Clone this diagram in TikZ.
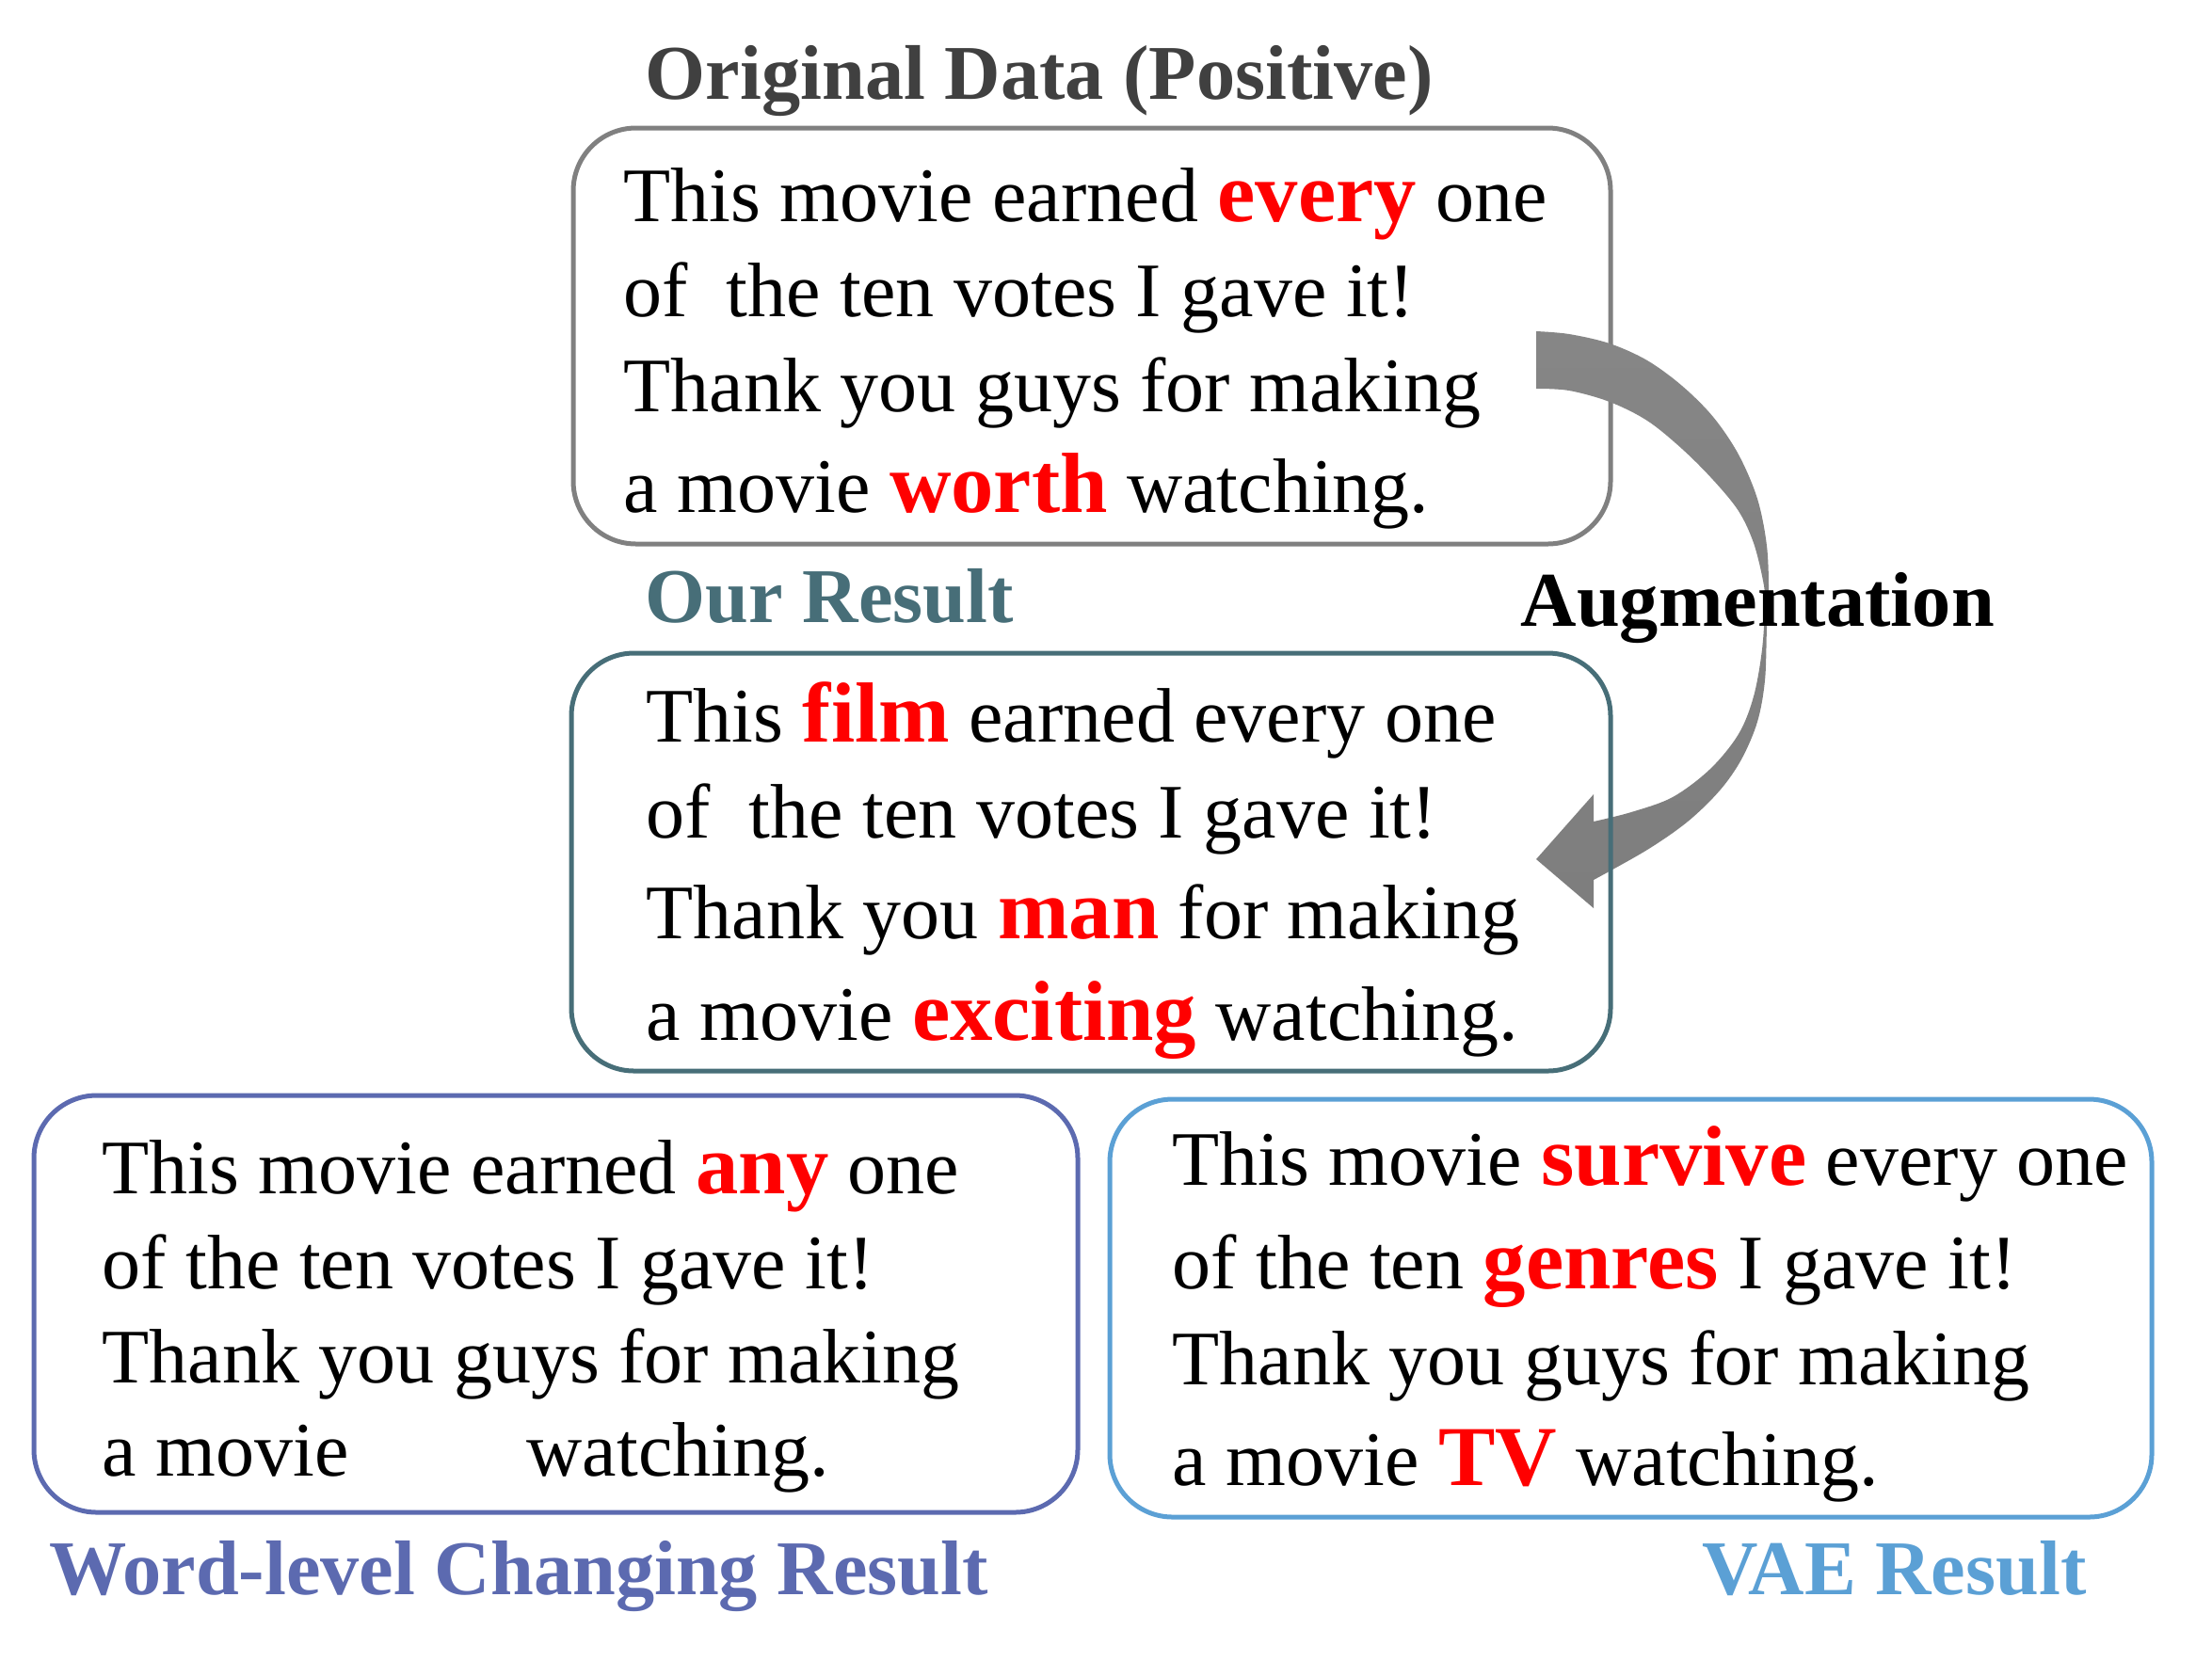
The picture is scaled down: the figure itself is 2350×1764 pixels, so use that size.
\documentclass[tikz,border=0pt]{standalone}
\usepackage{fontspec}
\setmainfont{Liberation Serif}
\definecolor{cOrig}{RGB}{128,128,128}
\definecolor{cOrigT}{RGB}{64,64,64}
\definecolor{cOur}{RGB}{71,110,120}
\definecolor{cWord}{RGB}{92,106,176}
\definecolor{cVAE}{RGB}{91,160,213}
\definecolor{cHl}{RGB}{255,0,0}
\definecolor{arrA}{RGB}{134,134,134}
\definecolor{arrB}{RGB}{170,170,170}
\definecolor{arrC}{RGB}{126,126,126}
\newcommand{\hlw}[1]{{\fontsize{27.2}{30}\selectfont\bfseries\color{cHl}#1}}
\begin{document}
\begin{tikzpicture}[x=0.3pt,y=-0.3pt,
  txt/.style={anchor=base west,inner sep=0pt,font=\fontsize{24.6}{30}\selectfont},
  ttl/.style={anchor=base west,inner sep=0pt,font=\fontsize{24.7}{30}\selectfont\bfseries},
  panel/.style={draw,line width=1.5pt,rounded corners=20pt,inner sep=0pt}]
\useasboundingbox (0,0) rectangle (2350,1764);

% original box
\node[panel,draw=cOrig,minimum width=330.6pt,minimum height=132.6pt] (orig) at (1160,357) {};

% augmentation arrow
\shade[top color=arrA,middle color=arrB,bottom color=arrC]
  plot[smooth,tension=0.55] coordinates {(1632,352) (1667,355) (1710,365) (1750,383) (1787,410) (1820,443) (1847,483) (1867,530) (1877,580) (1879,630) (1877,667) (1875,723) (1867,767) (1850,807) (1827,840) (1793,873) (1750,903) (1693,935)}
  -- (1693,965) -- (1632,913) -- (1693,844) -- (1693,873)
  -- plot[smooth,tension=0.55] coordinates {(1693,873) (1733,863) (1777,847) (1817,817) (1847,780) (1863,740) (1872,690) (1875,640) (1873,617) (1863,577) (1847,543) (1820,510) (1787,477) (1750,447) (1710,427) (1667,415) (1632,413)}
  -- cycle;

% other boxes
\node[panel,draw=cOur,minimum width=331.2pt,minimum height=133.2pt] (our) at (1159,916) {};
\node[panel,draw=cWord,minimum width=332.7pt,minimum height=132.9pt] (word) at (590.5,1385.5) {};
\node[panel,draw=cVAE,minimum width=332.1pt,minimum height=133.2pt] (vae) at (1732.5,1390) {};

% titles
\node[ttl,text=cOrigT] (tOrig) at (685,105) {Original Data (Positive)};
\node[ttl,text=cOur] (tOur) at (685,661) {Our Result};
\node[ttl,text=black] (tAug) at (1615,665) {Augmentation};
\node[ttl,text=cWord] (tWord) at (52,1694) {Word-level Changing Result};
\node[ttl,text=cVAE] (tVAE) at (1808,1694) {VAE Result};

% original text
\node[txt] (o1) at (662,235) {This movie earned \hlw{every} one};
\node[txt] (o2) at (662,336) {of\ \ the ten votes I gave it!};
\node[txt] (o3) at (662,437) {Thank you guys for making};
\node[txt] (o4) at (662,544) {a movie \hlw{worth} watching.};

% our result text
\node[txt] (r1) at (686,788) {This \hlw{film} earned every one};
\node[txt] (r2) at (686,890) {of\ \ the ten votes I gave it!};
\node[txt] (r3) at (686,997) {Thank you \hlw{man} for making};
\node[txt] (r4) at (686,1105) {a movie \hlw{exciting} watching.};

% word-level text
\node[txt] (w1) at (108,1268) {This movie earned \hlw{any} one};
\node[txt] (w2) at (108,1369) {of the ten votes I gave it!};
\node[txt] (w3) at (108,1469) {Thank you guys for making};
\node[txt] (w4a) at (108,1568) {a movie};
\node[txt] (w4b) at (559,1568) {watching.};

% VAE text
\node[txt] (v1) at (1245,1259) {This movie \hlw{survive} every one};
\node[txt] (v2) at (1245,1369) {of the ten \hlw{genres} I gave it!};
\node[txt] (v3) at (1245,1471) {Thank you guys for making};
\node[txt] (v4) at (1245,1578) {a movie \hlw{TV} watching.};
\end{tikzpicture}
\end{document}
